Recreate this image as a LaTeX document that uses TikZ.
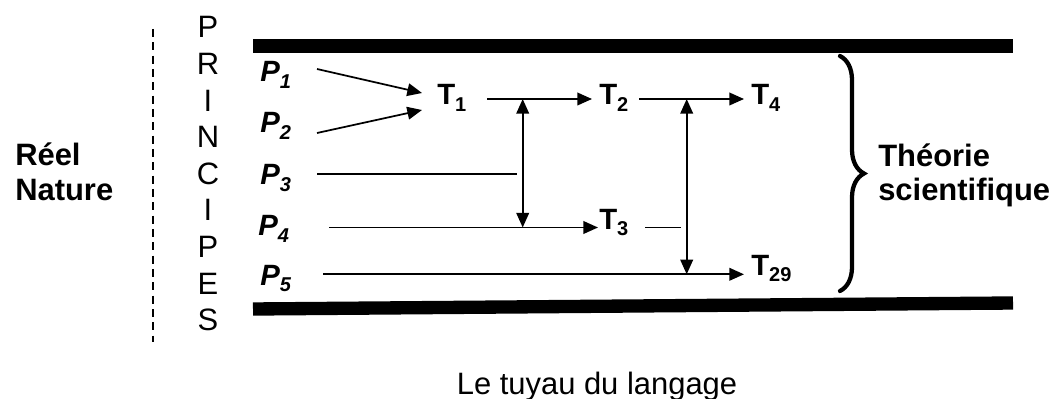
\documentclass[tikz,border=0pt]{standalone}
\usepackage{fontspec}
\setmainfont{Liberation Sans}
\usetikzlibrary{arrows.meta,decorations.pathreplacing}
% symbol with a lowered index
\newcommand\idx[2]{#1\raisebox{-0.22em}{\fontsize{15}{15}\selectfont #2}}
\begin{document}
\begin{tikzpicture}[x=0.75pt,y=-0.75pt,
  txt/.style={inner sep=0pt,font=\fontsize{23.2}{27}\selectfont},
  side/.style={txt,font=\fontsize{23.2}{27}\selectfont\bfseries,anchor=base west},
  sym/.style={inner sep=0pt,anchor=base west,font=\fontsize{22}{25}\selectfont\bfseries},
  psym/.style={sym,font=\fontsize{22}{25}\selectfont\bfseries\itshape},
  letter/.style={txt,anchor=base},
  link/.style={line width=1.3pt},
  arr/.style={link,-{Triangle[length=11pt,width=9.5pt]}},
  dbl/.style={link,{Triangle[length=11pt,width=9.5pt]}-{Triangle[length=11pt,width=9.5pt]}},
  pipe/.style={line width=10pt,line cap=butt},
]
\useasboundingbox (0,0) rectangle (1050,399);
\clip (0,0) rectangle (1050,399);

% walls of the pipe
\draw[pipe] (253,46) -- (1013,46);
\draw[pipe] (253,309) -- (1013,303);

% boundary between the real world and the principles
\draw[line width=1.5pt,dash pattern=on 6pt off 4pt] (153,29) -- (153,342);

% left and right labels
\node[side] (reel) at (15,166) {Réel};
\node[side] (nature) at (15,201) {Nature};
\node[side] (theorie) at (878,167) {Théorie};
\node[side] (scient) at (878,201) {scientifique};

% the word PRINCIPES written downwards
\foreach \c [count=\i from 0] in {P,R,I,N,C,I,P,E,S}
  \node[letter] (pr\i) at (208,38+36.6*\i) {\c};

% principles
\node[psym] (P1) at (260,82)  {\idx{P}{1}};
\node[psym] (P2) at (260,133) {\idx{P}{2}};
\node[psym] (P3) at (260,185) {\idx{P}{3}};
\node[psym] (P4) at (258,236) {\idx{P}{4}};
\node[psym] (P5) at (260,285) {\idx{P}{5}};

% theorems
\node[sym] (T1)  at (437,105) {\idx{T}{1}};
\node[sym] (T2)  at (599,105) {\idx{T}{2}};
\node[sym] (T4)  at (751,105) {\idx{T}{4}};
\node[sym] (T3)  at (599,229) {\idx{T}{3}};
\node[sym] (T29) at (751,275) {\idx{T}{29}};

% caption
\node[txt,anchor=base] (cap) at (597,394) {Le tuyau du langage};

% connector end points
\coordinate (p1s) at (317,69);
\coordinate (p1e) at (422,93);
\coordinate (p2s) at (317,133);
\coordinate (p2e) at (422,110);
\coordinate (t1s) at (487,99);
\coordinate (t2e) at (592,99);
\coordinate (t2s) at (639,99);
\coordinate (t4e) at (744,99);
\coordinate (ja) at (522.7,99);
\coordinate (jb) at (522.7,227.5);
\coordinate (jc) at (686.7,99);
\coordinate (jd) at (686.7,274.3);
\coordinate (p3s) at (317,174.3);
\coordinate (p3e) at (517,174.3);
\coordinate (p4s) at (329,227.5);
\coordinate (t3e) at (598,227.5);
\coordinate (t3s) at (645,227.5);
\coordinate (t3d) at (681,227.5);
\coordinate (p5s) at (323,274.3);
\coordinate (t29e) at (744,274.3);

% derivations
\draw[arr] (p1s) -- (p1e);
\draw[arr] (p2s) -- (p2e);
\draw[arr] (t1s) -- (t2e);
\draw[arr] (t2s) -- (t4e);
\draw[link] (p3s) -- (p3e);
\draw[arr] (p4s) -- (t3e);
\draw[link] (t3s) -- (t3d);
\draw[arr] (p5s) -- (t29e);
\draw[dbl] (jb) -- (ja);
\draw[dbl] (jd) -- (jc);

% brace gathering the theory
\draw[line width=3.2pt,line cap=round,decorate,decoration={brace,amplitude=18pt}]
  (840,56) -- (840,291);
\end{tikzpicture}
\end{document}
